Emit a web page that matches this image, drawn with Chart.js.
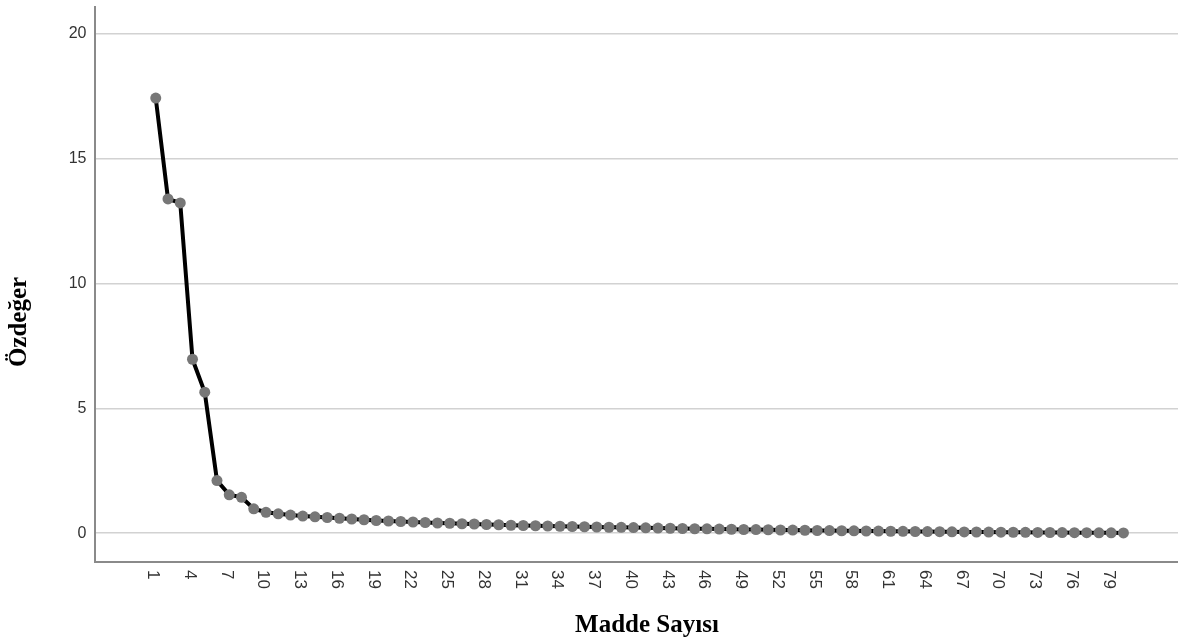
<!DOCTYPE html>
<html>
<head>
<meta charset="utf-8">
<script src="https://cdn.jsdelivr.net/npm/chart.js@4/dist/chart.umd.min.js"></script>
<style>
  html, body { margin: 0; padding: 0; background: #fff; overflow: hidden; }
  canvas { display: block; }
</style>
</head>
<body>
<canvas id="scree" width="1200" height="644"></canvas>
<script>
// item numbers (Madde)
const items = [
  1, 2, 3, 4, 5, 6, 7, 8, 9, 10, 11, 12, 13, 14, 15, 16, 17, 18, 19, 20,
  21, 22, 23, 24, 25, 26, 27, 28, 29, 30, 31, 32, 33, 34, 35, 36, 37, 38, 39, 40,
  41, 42, 43, 44, 45, 46, 47, 48, 49, 50, 51, 52, 53, 54, 55, 56, 57, 58, 59, 60,
  61, 62, 63, 64, 65, 66, 67, 68, 69, 70, 71, 72, 73, 74, 75, 76, 77, 78, 79, 80,
];

// eigenvalues
const eigenvalues = [
  17.43, 13.39, 13.23, 6.97, 5.65, 2.11, 1.54, 1.44, 0.98, 0.84,
  0.78, 0.73, 0.69, 0.66, 0.63, 0.60, 0.57, 0.54, 0.51, 0.49,
  0.47, 0.45, 0.43, 0.41, 0.40, 0.38, 0.37, 0.35, 0.34, 0.32,
  0.31, 0.30, 0.29, 0.28, 0.27, 0.26, 0.25, 0.24, 0.235, 0.225,
  0.215, 0.205, 0.20, 0.19, 0.18, 0.175, 0.165, 0.16, 0.15, 0.145,
  0.14, 0.13, 0.125, 0.12, 0.11, 0.105, 0.10, 0.095, 0.09, 0.085,
  0.08, 0.075, 0.07, 0.066, 0.062, 0.058, 0.054, 0.05, 0.046, 0.043,
  0.04, 0.036, 0.033, 0.03, 0.027, 0.024, 0.021, 0.018, 0.015, 0.012,
];

const xTicks = [1, 4, 7, 10, 13, 16, 19, 22, 25, 28, 31, 34, 37, 40, 43, 46, 49, 52, 55, 58, 61, 64, 67, 70, 73, 76, 79];
const yTicks = [0, 5, 10, 15, 20];

const xTitle = "Madde Sayısı";
const yTitle = "Özdeğer";

// x tick labels run top-to-bottom and titles sit off-centre, so draw them here
const extraText = {
  id: "extraText",
  afterDraw(chart) {
    const ctx = chart.ctx;
    const x = chart.scales.x;
    ctx.save();
    ctx.fillStyle = "#333";
    ctx.font = "17px 'Liberation Sans', Arial, sans-serif";
    ctx.textAlign = "left";
    ctx.textBaseline = "middle";
    xTicks.forEach((v) => {
      ctx.save();
      ctx.translate(x.getPixelForValue(v) - 3, 570);
      ctx.rotate(Math.PI / 2);
      ctx.fillText(String(v), 0, 0);
      ctx.restore();
    });

    ctx.fillStyle = "#000";
    ctx.font = "bold 25px 'Liberation Serif', 'Times New Roman', serif";
    ctx.textAlign = "center";
    ctx.fillText(xTitle, 647, 626);

    ctx.translate(20, 322);
    ctx.rotate(-Math.PI / 2);
    ctx.fillText(yTitle, 0, 0);
    ctx.restore();
  },
};

const noPad = (scale) => {
  scale.paddingTop = 0;
  scale.paddingBottom = 0;
  scale.paddingLeft = 0;
  scale.paddingRight = 0;
};

const config = {
  type: "line",
  data: {
    labels: items,
    datasets: [
      {
        data: eigenvalues,
        borderColor: "#000",
        borderWidth: 4,
        pointRadius: 5.5,
        pointHoverRadius: 5.5,
        pointBackgroundColor: "#777",
        pointBorderWidth: 0,
        tension: 0,
      },
    ],
  },
  options: {
    responsive: false,
    animation: false,
    devicePixelRatio: 1,
    layout: { padding: { top: 7, left: 0, right: 0, bottom: 0 } },
    scales: {
      x: {
        type: "linear",
        min: -4,
        max: 85.8,
        afterBuildTicks: (scale) => {
          scale.ticks = xTicks.map((v) => ({ value: v }));
        },
        afterFit: (scale) => {
          scale.height = 82.3;
          noPad(scale);
        },
        grid: { display: false, drawTicks: false },
        border: { display: true, color: "#8a8a8a", width: 2 },
        ticks: { display: false },
      },
      y: {
        min: -1.14,
        max: 21.08,
        afterBuildTicks: (scale) => {
          scale.ticks = yTicks.map((v) => ({ value: v }));
        },
        afterFit: (scale) => {
          scale.width = 94.5;
          noPad(scale);
        },
        grid: { color: "#d2d2d2", lineWidth: 1.5, drawTicks: false },
        border: { display: true, color: "#8a8a8a", width: 2 },
        ticks: {
          padding: 8,
          color: "#333",
          font: { family: "'Liberation Sans', Arial, sans-serif", size: 16 },
        },
      },
    },
    plugins: {
      legend: { display: false },
      tooltip: { enabled: false },
    },
  },
  plugins: [extraText],
};

const screeChart = new Chart(document.getElementById("scree"), config);
</script>
</body>
</html>
